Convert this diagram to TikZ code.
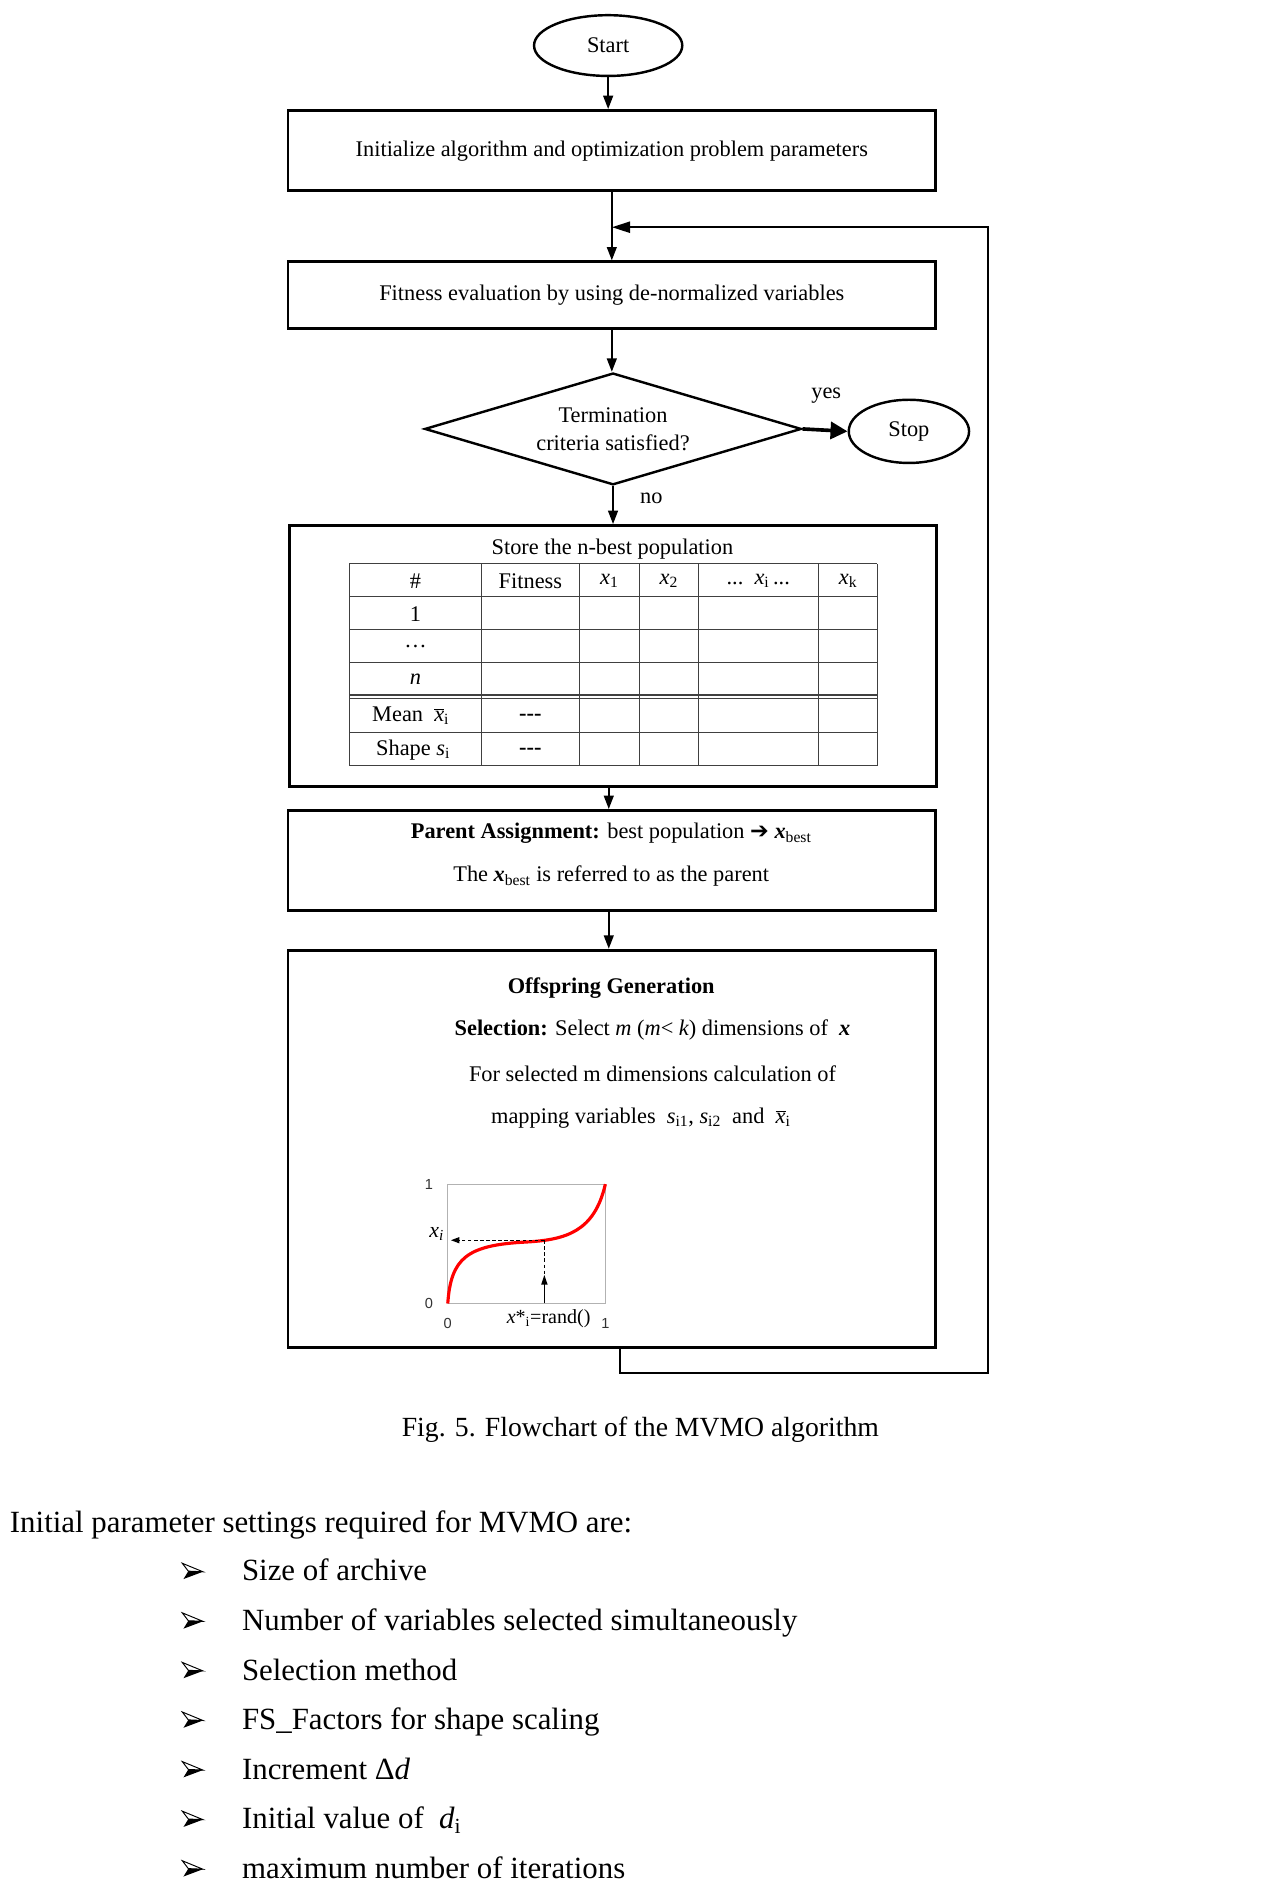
\documentclass[tikz,border=0pt]{standalone}
\usepackage{fontspec}
\setmainfont{Liberation Serif}
\newfontfamily\dejavu{DejaVu Sans}
\newfontfamily\arialf{Liberation Sans}
\usetikzlibrary{shapes.geometric,arrows.meta}
\newcommand\xv[1]{{\itshape x}\textsubscript{#1}}
\newcommand\xbarv{$\overline{\hbox{\itshape x}}$\textsubscript{i}}
\newcommand\xbest{{\bfseries\itshape x}\textsubscript{best}}
\begin{document}
\begin{tikzpicture}[x=1pt,y=-1pt,
  box/.style={draw,line width=2.4pt,minimum width=533pt,inner sep=0pt},
  term/.style={draw,ellipse,line width=2pt,inner sep=0pt},
  arr/.style={line width=1.6pt,-{Triangle[length=11pt,width=8pt]}},
  fs/.style={font=\fontsize{18.4}{22}\selectfont},
  cell/.style={font=\fontsize{18.4}{22}\selectfont,inner sep=0pt},
  grid/.style={line width=1pt,draw=black!75},
  big/.style={font=\fontsize{25.4}{30}\selectfont,inner sep=0pt,anchor=base west},
  ]
\fill[white] (0,0) rectangle (1050,1562);
\useasboundingbox (0,0) rectangle (1050,1562);

% flowchart nodes
\node[term,minimum width=122pt,minimum height=50pt,fs] (start) at (500.5,37.5) {Start};
\node[box,minimum height=66pt,fs] (init) at (503.5,124) {Initialize algorithm and optimization problem parameters};
\node[box,minimum height=55pt,fs] (fit) at (503.5,243) {Fitness evaluation by using de-normalized variables};
\node[draw,diamond,line width=2pt,minimum width=310pt,minimum height=92pt,aspect=3.37,inner sep=0pt,fs,align=center] (dec) at (504.5,353) {Termination\\[1pt]criteria satisfied?};
\node[term,minimum width=99pt,minimum height=52pt,fs] (stop) at (748,355) {Stop};
\node[fs] (yes) at (680,326) {yes};
\node[fs] (no) at (536,410) {no};

% store box with table
\node[box,minimum height=215pt] (store) at (504.5,540) {};
\node[fs] (storet) at (504,452) {Store the n-best population};
\foreach \yy in {464,491,518,545,572,575,603,630}
  \draw[grid] (287.5,\yy) -- (722,\yy);
\foreach \xx in {287.5,396,477,526,575,673.5,722}
  \draw[grid] (\xx,464) -- (\xx,630);
\node[cell] (h1) at (342,478) {\#};
\node[cell] (h2) at (436.5,478) {Fitness};
\node[cell] (h3) at (501.5,478) {\xv{1}};
\node[cell] (h4) at (550.5,478) {\xv{2}};
\node[cell] (h5) at (624,478) {...\ \ \xv{i}\,...};
\node[cell] (h6) at (698,478) {\xv{k}};
\node[cell] (r1) at (342,505) {1};
\node[cell] (r2) at (342,532) {\dots};
\node[cell] (r3) at (342,559) {\itshape n};
\node[cell] (r4) at (338,589) {Mean \ \xbarv};
\node[cell] (r5) at (340,617) {Shape {\itshape s}\textsubscript{i}};
\node[cell] (f4) at (436.5,590) {\textbf{-{}-{}-}};
\node[cell] (f5) at (436.5,618) {\textbf{-{}-{}-}};

% parent box
\node[box,minimum height=82pt] (parent) at (503.5,708) {};
\node[fs] (p1) at (503,686) {\textbf{Parent Assignment:} best population {\dejavu\bfseries ➔} \xbest};
\node[fs] (p2) at (503,721) {The \xbest\ is referred to as the parent};

% offspring box
\node[box,minimum height=327pt] (off) at (503.5,945.5) {};
\node[fs] (o1) at (503,813) {\textbf{Offspring Generation}};
\node[fs] (o2) at (537,848) {\textbf{Selection:} Select {\itshape m} ({\itshape m}< {\itshape k}) dimensions of \ {\bfseries\itshape x}};
\node[fs] (o3) at (537,884) {For selected m dimensions calculation of};
\node[fs,anchor=west,inner sep=0pt] (o4) at (404,920) {mapping variables \ {\itshape s}\textsubscript{i1}, {\itshape s}\textsubscript{i2} \ and \ \xbarv};

% mapping plot
\begin{scope}[shift={(368.5,1072.7)},x=129.7pt,y=98.2pt]
  \draw[black!30,line width=0.8pt] (0,0) rectangle (1,1);
  \draw[red,line width=2.6pt] (0,0) .. controls (0.02,0.38) and (0.12,0.49) .. (0.5,0.515)
        .. controls (0.75,0.535) and (0.93,0.6) .. (1,1);
  \coordinate (pm) at (0.613,0.53);
  \coordinate (pl) at (0.02,0.53);
  \coordinate (pv) at (0.613,0.24);
  \coordinate (pb) at (0.613,0);
  \draw[dash pattern=on 3pt off 2pt,line width=0.9pt,-{Triangle[length=7pt,width=5pt]}] (pm) -- (pl);
  \draw[dash pattern=on 3pt off 2pt,line width=0.9pt] (pm) -- (pv);
  \draw[line width=1pt,-{Triangle[length=8pt,width=5pt]}] (pb) -- (pv);
  \node[font=\arialf\fontsize{12}{14}\selectfont,text=black!80] (t1) at (-0.12,1) {1};
  \node[font=\arialf\fontsize{12}{14}\selectfont,text=black!80] (t0) at (-0.12,0) {0};
  \node[font=\arialf\fontsize{12}{14}\selectfont,text=black!80] (b0) at (0,-0.17) {0};
  \node[font=\arialf\fontsize{12}{14}\selectfont,text=black!80] (b1) at (1,-0.17) {1};
  \node[font=\fontsize{18}{20}\selectfont] (xl) at (-0.07,0.58) {{\itshape x}\textsubscript{\itshape i}};
  \node[font=\fontsize{16.5}{20}\selectfont] (xr) at (0.64,-0.13) {{\itshape x}*\textsubscript{i}=rand()};
\end{scope}

% connectors
\draw[arr] (start.south) -- (start.south |- init.north);
\draw[arr] (init.south) -- (fit.north);
\draw[arr] (fit.south) -- (fit.south |- dec.north);
\draw[line width=3pt,-{Triangle[length=14pt,width=14pt]}] (dec.east) -- (stop.west);
\draw[arr] (dec.south) -- (dec.south |- store.north);
\coordinate (sb) at (501,647.5);
\draw[arr] (sb) -- (sb |- parent.north);
\coordinate (pb2) at (501,749);
\draw[arr] (pb2) -- (pb2 |- off.north);
\coordinate (c0) at (510,1109);
\coordinate (c1) at (510,1130);
\coordinate (c2) at (813,1130);
\coordinate (c3) at (813,187);
\coordinate (c4) at (503.5,187);
\draw[line width=2pt,-{Triangle[length=15pt,width=9pt]}] (c0) -- (c1) -- (c2) -- (c3) -- (c4);

% caption and list
\node[font=\fontsize{22.8}{28}\selectfont,anchor=base,inner sep=0pt] (cap) at (527,1182) {Fig. 5. Flowchart of the MVMO algorithm};
\node[big] (intro) at (8,1261) {Initial parameter settings required for MVMO are:};
\foreach \t [count=\i] in {{Size of archive},{Number of variables selected simultaneously},{Selection method},{FS\_Factors for shape scaling},{Increment Δ{\itshape d}},{Initial value of \ {\itshape d}\textsubscript{i}},{maximum number of iterations}}{
  \begin{scope}[shift={(150,1293+40.8*\i-40.8)}]
    \draw[line width=0.8pt,fill=white] (0,-6.5) -- (17,0.5) -- (5,0) -- cycle;
    \fill[black] (5,0) -- (17,0.5) -- (1,6.5) -- cycle;
  \end{scope}
  \node[big] (item\i) at (199,1301+40.8*\i-40.8) {\t};
}
\end{tikzpicture}
\end{document}
